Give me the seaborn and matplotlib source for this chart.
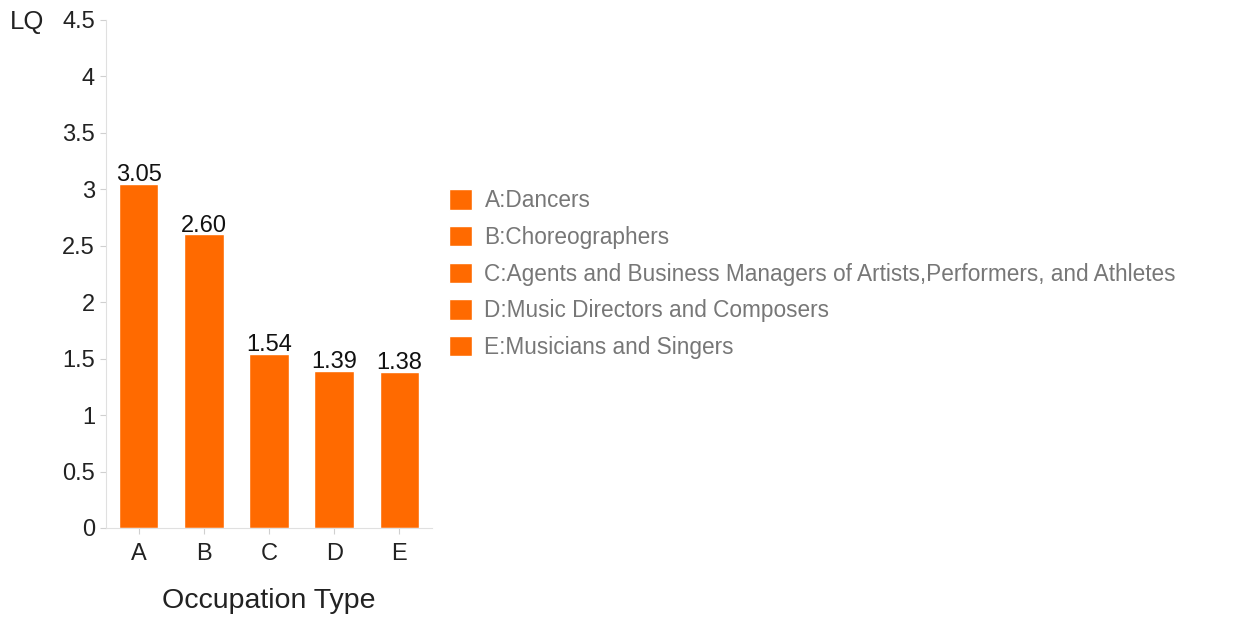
import matplotlib
matplotlib.use("Agg")
import matplotlib.pyplot as plt
import seaborn as sns
import pandas as pd

codes = ["A", "B", "C", "D", "E"]
names = ["A:Dancers", "B:Choreographers",
         "C:Agents and Business Managers of Artists,Performers, and Athletes",
         "D:Music Directors and Composers", "E:Musicians and Singers"]
values = [3.05, 2.60, 1.54, 1.39, 1.38]
yticks = [0, 0.5, 1, 1.5, 2, 2.5, 3, 3.5, 4, 4.5]
ytick_labels = ["0", "0.5", "1", "1.5", "2", "2.5", "3", "3.5", "4", "4.5"]

df = pd.DataFrame({"code": codes, "name": names, "value": values})

sns.set_theme(style="white")
plt.rcParams["font.family"] = ["Liberation Sans", "DejaVu Sans"]

color = "#ff6a00"
fig = plt.figure(figsize=(12.34, 6.19), dpi=100)
W, H = 1234, 619
ax = fig.add_axes([106 / W, 1 - 528 / H, (432 - 106) / W, (528 - 20) / H])

sns.barplot(data=df, x="code", y="value", hue="name", palette=[color] * 5,
            dodge=False, width=0.61, ax=ax, legend=True, saturation=1)

ax.set_ylim(0, 4.5)
ax.set_xlim(-0.5, 4.5)
ax.set_yticks(yticks)
ax.set_yticklabels(ytick_labels)
ax.tick_params(axis="y", labelsize=17, colors="#d0d0d0", labelcolor="#222222",
               length=4, width=0.8, left=True, pad=4)
ax.tick_params(axis="x", labelsize=17, colors="#d0d0d0", labelcolor="#222222",
               length=4, width=0.8, bottom=True, pad=7)
for s in ["top", "right"]:
    ax.spines[s].set_visible(False)
for s in ["left", "bottom"]:
    ax.spines[s].set_color("#e0e0e0")
    ax.spines[s].set_linewidth(0.8)

ax.set_xlabel("Occupation Type", fontsize=20.5, color="#222222", labelpad=16)
ax.set_ylabel("")
fig.text(10 / W, 1 - 22 / H, "LQ", fontsize=18.5, color="#222222", va="center", ha="left")

for i, v in enumerate(values):
    ax.text(i, v - 0.02, f"{v:.2f}", ha="center", va="bottom", fontsize=17, color="#111111")

handles, labels = ax.get_legend_handles_labels()
ax.get_legend().remove()
fig.legend(handles, labels, loc="upper left",
           bbox_to_anchor=(429 / W, 1 - 169 / H), frameon=False,
           fontsize=16.3, labelcolor="#777777", handlelength=1.0, handleheight=1.0,
           handletextpad=0.55, labelspacing=0.6)

fig.savefig("out.png", dpi=100, facecolor="white")
